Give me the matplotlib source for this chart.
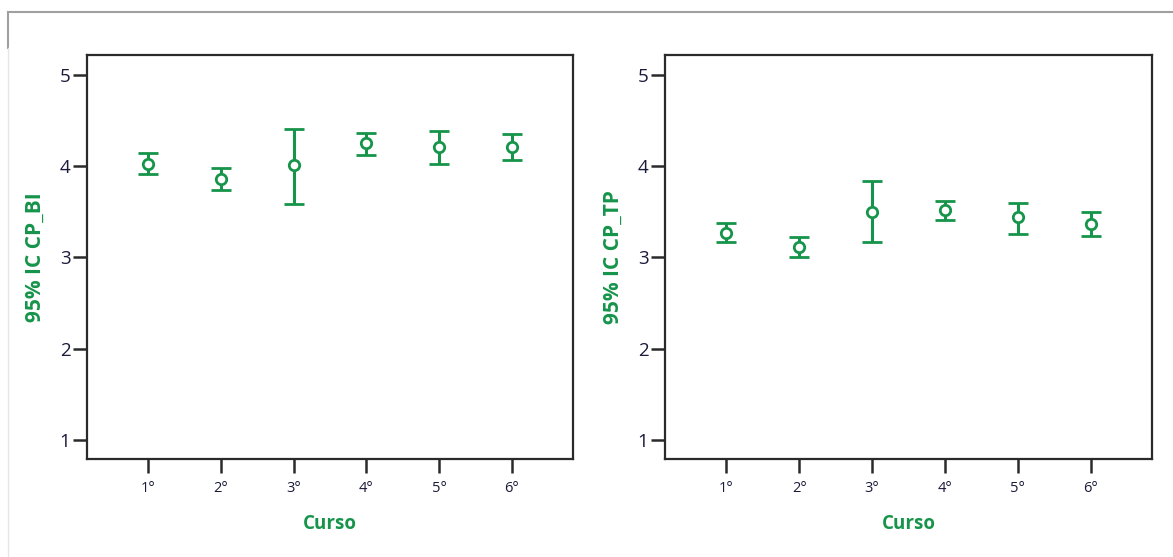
import matplotlib
matplotlib.use("Agg")
import matplotlib.pyplot as plt
from matplotlib.lines import Line2D

cursos = ["1°", "2°", "3°", "4°", "5°", "6°"]
bi_mean = [4.02, 3.86, 4.01, 4.25, 4.21, 4.21]
bi_low = [3.92, 3.74, 3.59, 4.12, 4.02, 4.07]
bi_high = [4.14, 3.98, 4.41, 4.37, 4.39, 4.35]
tp_mean = [3.27, 3.11, 3.50, 3.52, 3.44, 3.37]
tp_low = [3.17, 3.00, 3.17, 3.41, 3.26, 3.23]
tp_high = [3.38, 3.22, 3.84, 3.62, 3.60, 3.50]
ylabels = ["95% IC CP_BI", "95% IC CP_TP"]

green = "#16944a"
W, H = 1173, 557
fig = plt.figure(figsize=(W / 100, H / 100), dpi=100)

# page border fragments
fig.add_artist(Line2D([8 / W, 1], [1 - 12 / H, 1 - 12 / H], color="#a0a0a0", lw=1.5))
fig.add_artist(Line2D([8 / W, 8 / W], [1 - 12 / H, 1 - 48 / H], color="#a0a0a0", lw=1.5))
fig.add_artist(Line2D([8 / W, 8 / W], [1 - 48 / H, 0], color="#e6e6e6", lw=1))

boxes = [(87, 573), (665, 1152)]
series = [(bi_mean, bi_low, bi_high), (tp_mean, tp_low, tp_high)]
top, bottom = 55, 459
x = list(range(1, len(cursos) + 1))

for (l, r), (m, lo, hi), lab in zip(boxes, series, ylabels):
    ax = fig.add_axes([l / W, 1 - bottom / H, (r - l) / W, (bottom - top) / H])
    yerr = [[mi - a for mi, a in zip(m, lo)], [b - mi for mi, b in zip(m, hi)]]
    ax.errorbar(x, m, yerr=yerr, fmt="o", color=green, mfc="white", mec=green,
                mew=2, ms=7.5, elinewidth=2.2, capsize=7, capthick=2.4, zorder=3)
    ax.set_xlim(0.16, 6.84)
    ax.set_ylim(0.79, 5.22)
    ax.set_xticks(x)
    ax.set_xticklabels(cursos)
    ax.set_yticks([1, 2, 3, 4, 5])
    ax.tick_params(axis="both", direction="out", length=10, width=1.8, color="#2a2a2a",
                   labelcolor="#1a1a3a")
    ax.tick_params(axis="x", labelsize=10.5, pad=6)
    ax.tick_params(axis="y", labelsize=13.5, pad=2)
    for t in ax.get_xticklabels() + ax.get_yticklabels():
        t.set_fontfamily("Open Sans")
    for s in ax.spines.values():
        s.set_linewidth(1.6)
        s.set_color("#2a2a2a")
    ax.set_ylabel(lab, color=green, fontsize=15, fontweight="bold", family="Open Sans", labelpad=10)
    ax.set_xlabel("Curso", color=green, fontsize=13.5, fontweight="bold", family="Open Sans", labelpad=13)

fig.savefig("out.png", dpi=100)
